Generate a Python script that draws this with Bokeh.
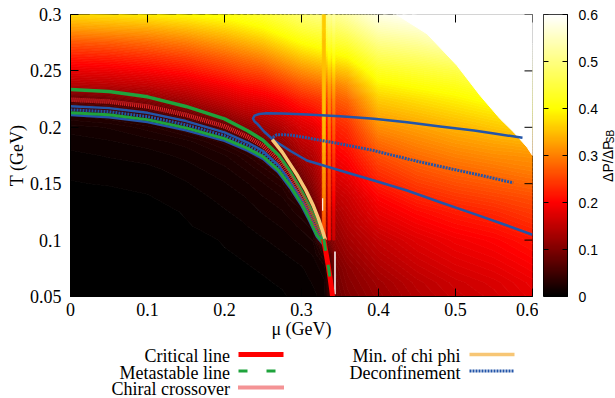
import numpy as np
from bokeh.plotting import figure
from bokeh.plotting.contour import contour_data
from bokeh.models import Range1d, FixedTicker, ColumnDataSource, LinearColorMapper
from bokeh.layouts import row, column
from bokeh.core.properties import value
from bokeh.embed import file_html
from bokeh.resources import INLINE

# ---------------- data ----------------
X_TICKS = [0, 0.1, 0.2, 0.3, 0.4, 0.5, 0.6]
X_LABELS = ["0", "0.1", "0.2", "0.3", "0.4", "0.5", "0.6"]
Y_TICKS = [0.05, 0.1, 0.15, 0.2, 0.25, 0.3]
Y_LABELS = ["0.05", "0.1", "0.15", "0.2", "0.25", "0.3"]
CB_TICKS = [0, 0.1, 0.2, 0.3, 0.4, 0.5, 0.6]
CB_LABELS = ["0", "0.1", "0.2", "0.3", "0.4", "0.5", "0.6"]

# heat-map grid (mu columns, T rows)
MU_GRID = [0, 0.05, 0.1, 0.15, 0.2, 0.225, 0.25, 0.275, 0.3, 0.315, 0.33, 0.345, 0.36, 0.4, 0.45, 0.5, 0.55, 0.6]
T_GRID = [0.05, 0.0625, 0.075, 0.0875, 0.1, 0.1125, 0.125, 0.1375, 0.15, 0.1625, 0.175,
          0.1875, 0.2, 0.2125, 0.225, 0.2375, 0.25, 0.2625, 0.275, 0.2875, 0.3]
Z_BY_MU = [
    [0, 0, 0, 0, 0, 0, 0, 0, 0.002, 0.004, 0.006, 0.01, 0.015, 0.03, 0.075, 0.14, 0.18, 0.22, 0.265, 0.32, 0.37],
    [0, 0, 0, 0, 0, 0, 0, 0, 0.003, 0.005, 0.008, 0.012, 0.018, 0.035, 0.085, 0.145, 0.185, 0.225, 0.27, 0.325, 0.375],
    [0, 0, 0, 0, 0, 0, 0, 0.002, 0.004, 0.006, 0.01, 0.015, 0.025, 0.05, 0.105, 0.155, 0.195, 0.235, 0.28, 0.33, 0.385],
    [0, 0, 0, 0, 0, 0.002, 0.003, 0.005, 0.007, 0.01, 0.014, 0.02, 0.04, 0.08, 0.13, 0.17, 0.21, 0.25, 0.295, 0.345, 0.395],
    [0, 0, 0.001, 0.002, 0.003, 0.005, 0.007, 0.009, 0.012, 0.016, 0.022, 0.035, 0.065, 0.12, 0.16, 0.195, 0.235, 0.275, 0.32, 0.365, 0.41],
    [0, 0.001, 0.002, 0.003, 0.005, 0.007, 0.009, 0.012, 0.016, 0.022, 0.03, 0.05, 0.1, 0.14, 0.175, 0.21, 0.25, 0.29, 0.335, 0.38, 0.425],
    [0.001, 0.002, 0.003, 0.005, 0.007, 0.01, 0.013, 0.017, 0.022, 0.03, 0.045, 0.08, 0.12, 0.15, 0.185, 0.22, 0.26, 0.305, 0.35, 0.395, 0.44],
    [0.002, 0.003, 0.005, 0.007, 0.01, 0.013, 0.017, 0.022, 0.03, 0.045, 0.075, 0.11, 0.14, 0.17, 0.2, 0.24, 0.285, 0.33, 0.375, 0.42, 0.46],
    [0.004, 0.005, 0.007, 0.01, 0.014, 0.019, 0.026, 0.04, 0.075, 0.1, 0.125, 0.15, 0.17, 0.195, 0.225, 0.265, 0.31, 0.355, 0.4, 0.445, 0.485],
    [0.006, 0.008, 0.01, 0.013, 0.018, 0.025, 0.05, 0.09, 0.11, 0.125, 0.14, 0.16, 0.18, 0.205, 0.235, 0.275, 0.32, 0.365, 0.41, 0.455, 0.495],
    [0.01, 0.012, 0.015, 0.03, 0.08, 0.11, 0.125, 0.14, 0.15, 0.16, 0.17, 0.185, 0.2, 0.22, 0.245, 0.285, 0.33, 0.375, 0.42, 0.46, 0.505],
    [0.085, 0.09, 0.095, 0.105, 0.115, 0.125, 0.135, 0.15, 0.165, 0.18, 0.195, 0.21, 0.225, 0.245, 0.27, 0.3, 0.345, 0.39, 0.435, 0.475, 0.515],
    [0.1, 0.105, 0.11, 0.12, 0.13, 0.14, 0.15, 0.16, 0.175, 0.19, 0.205, 0.22, 0.235, 0.255, 0.28, 0.315, 0.355, 0.4, 0.445, 0.49, 0.53],
    [0.12, 0.125, 0.135, 0.145, 0.155, 0.17, 0.185, 0.2, 0.22, 0.24, 0.26, 0.285, 0.31, 0.335, 0.36, 0.39, 0.425, 0.465, 0.505, 0.545, 0.58],
    [0.14, 0.145, 0.155, 0.165, 0.175, 0.19, 0.205, 0.225, 0.245, 0.265, 0.285, 0.305, 0.325, 0.35, 0.375, 0.405, 0.44, 0.48, 0.52, 0.56, 0.6],
    [0.155, 0.16, 0.17, 0.18, 0.19, 0.205, 0.22, 0.24, 0.26, 0.28, 0.3, 0.32, 0.34, 0.365, 0.39, 0.42, 0.455, 0.5, 0.55, 0.6, 0.6],
    [0.165, 0.17, 0.18, 0.19, 0.2, 0.215, 0.23, 0.25, 0.27, 0.29, 0.31, 0.33, 0.355, 0.38, 0.41, 0.45, 0.5, 0.55, 0.6, 0.6, 0.6],
    [0.18, 0.185, 0.195, 0.205, 0.215, 0.23, 0.245, 0.26, 0.28, 0.3, 0.315, 0.34, 0.37, 0.4, 0.44, 0.48, 0.52, 0.56, 0.6, 0.6, 0.6],
]

# narrow vertical streaks in the map (numerical artefacts near mu ~ 0.33)
STREAK_T = [0.1, 0.1125, 0.125, 0.1375, 0.15, 0.1625, 0.175, 0.1875, 0.2, 0.2125, 0.225,
            0.2375, 0.25, 0.2625, 0.275, 0.2875, 0.3]
STREAK_MU = [(0.327, 0.331), (0.3345, 0.3375), (0.3405, 0.3435)]
STREAK_VALS = [
    [0.24, 0.26, 0.28, 0.3, 0.31, 0.32, 0.33, 0.34, 0.345, 0.35, 0.35, 0.35, 0.35, 0.35, 0.35, 0.36, 0.36],
    [0.2, 0.21, 0.22, 0.24, 0.25, 0.26, 0.27, 0.28, 0.29, 0.3, 0.31, 0.33, 0.36, 0.4, 0.44, 0.48, 0.52],
    [0.16, 0.17, 0.18, 0.2, 0.215, 0.23, 0.245, 0.26, 0.275, 0.29, 0.31, 0.335, 0.37, 0.41, 0.45, 0.49, 0.53],
]
# thin gaps without data inside the map
GAP_MU_LEFT = [0.3425, 0.3268]
GAP_MU_RIGHT = [0.3445, 0.3282]
GAP_T_BOTTOM = [0.052, 0.126]
GAP_T_TOP = [0.09, 0.137]

# edge of the computed region (no data beyond it)
EDGE_MU = [0.4234, 0.463, 0.502, 0.532, 0.558, 0.5757, 0.593, 0.6]
EDGE_T = [0.3, 0.2829, 0.2548, 0.2282, 0.2075, 0.1957, 0.1823, 0.175]

# transition lines
MU_BUNDLE = [0, 0.05, 0.1, 0.15, 0.2, 0.23, 0.25, 0.27, 0.285, 0.3, 0.31, 0.32, 0.329]
T_META_UP = [0.2335, 0.2318, 0.227, 0.2185, 0.2075, 0.197, 0.1885, 0.1755, 0.161, 0.1435, 0.13, 0.115, 0.101]
T_BLUE_1 = [0.2187, 0.217, 0.2128, 0.2055, 0.1955, 0.1865, 0.179, 0.1665, 0.1525, 0.1365, 0.1235, 0.108, 0.0985]
T_DECONF = [0.2155, 0.2138, 0.2095, 0.2022, 0.1925, 0.1838, 0.1763, 0.1642, 0.1505, 0.1345, 0.1215, 0.1065, 0.0975]
T_META_LO = [0.2129, 0.2112, 0.2068, 0.1995, 0.19, 0.1813, 0.174, 0.162, 0.1485, 0.1325, 0.1195, 0.1045, 0.0965]
T_BLUE_2 = [0.2108, 0.209, 0.2046, 0.1973, 0.188, 0.1793, 0.172, 0.16, 0.1465, 0.1305, 0.1175, 0.103, 0.0955]

MU_CHIRAL = [0, 0.05, 0.1, 0.15, 0.2, 0.23, 0.25, 0.27, 0.285, 0.3, 0.31, 0.32, 0.326]
T_CHIRAL = [0.2245, 0.2228, 0.2185, 0.211, 0.2008, 0.1915, 0.1835, 0.171, 0.157, 0.14, 0.127, 0.1115, 0.104]

MU_LOOP = [0.587, 0.55, 0.524, 0.48, 0.437, 0.394, 0.35, 0.307, 0.275, 0.255, 0.245, 0.239, 0.237,
           0.239, 0.243, 0.251, 0.264, 0.2857, 0.307, 0.35, 0.394, 0.437, 0.48, 0.524, 0.567, 0.6]
T_LOOP = [0.1907, 0.1945, 0.1972, 0.2007, 0.2045, 0.2075, 0.2098, 0.2113, 0.2122, 0.2124, 0.2118, 0.2103, 0.2078,
          0.2052, 0.2028, 0.1965, 0.1885, 0.179, 0.1706, 0.1617, 0.1528, 0.144, 0.1336, 0.1233, 0.1129, 0.1047]

MU_DECONF_R = [0.263, 0.268, 0.285, 0.3074, 0.3506, 0.3939, 0.4372, 0.4805, 0.5238, 0.575]
T_DECONF_R = [0.191, 0.1935, 0.1932, 0.1906, 0.1853, 0.1794, 0.172, 0.1652, 0.1588, 0.1508]

MU_CHI = [0.262, 0.275, 0.286, 0.295, 0.305, 0.315, 0.322, 0.327, 0.331]
T_CHI = [0.189, 0.178, 0.1665, 0.157, 0.145, 0.131, 0.119, 0.109, 0.1]

MU_CRIT = [0.3286, 0.3315, 0.3345, 0.3372, 0.3392, 0.3405]
T_CRIT = [0.101, 0.09, 0.078, 0.066, 0.056, 0.049]

MU_META_DASH = [0.329, 0.3315, 0.3345, 0.3372, 0.3385]
T_META_DASH = [0.101, 0.09, 0.078, 0.066, 0.06]

LEGEND_LABELS = ["Critical line", "Metastable line", "Chiral crossover", "Min. of chi phi", "Deconfinement"]

# ---------------- style ----------------
BLUE = "#2355a8"
GREEN = "#1fa33c"
RED = "#ff0000"
CHIRAL = "#e8262a"
TAN = "#f7c675"
SERIF = "Liberation Serif"
SANS = "Liberation Sans"
CB_LOW, CB_HIGH = 0.0, 0.6


def hot(v):
    x = min(max((v - CB_LOW) / (CB_HIGH - CB_LOW), 0.0), 1.0)
    r = min(1.0, 3 * x)
    g = min(1.0, max(0.0, 3 * x - 1))
    b = min(1.0, max(0.0, 3 * x - 2))
    return "#%02x%02x%02x" % (int(round(r * 255)), int(round(g * 255)), int(round(b * 255)))


LEVELS = np.linspace(-0.0025, 0.6025, 122)


def add_field(fig, x, y, z):
    cd = contour_data(x=np.asarray(x, float), y=np.asarray(y, float), z=np.asarray(z, float),
                      levels=LEVELS, want_fill=True, want_line=False)
    fd = cd.fill_data
    xs, ys, cols = [], [], []
    for bx, by, lo, hi in zip(fd.xs, fd.ys, fd.lower_levels, fd.upper_levels):
        if len(bx) == 0:
            continue
        xs.append([[list(map(float, ring)) for ring in poly] for poly in bx])
        ys.append([[list(map(float, ring)) for ring in poly] for poly in by])
        cols.append(hot(0.5 * (lo + hi)))
    src = ColumnDataSource(dict(xs=xs, ys=ys, color=cols))
    fig.multi_polygons(xs="xs", ys="ys", fill_color="color", line_color="color",
                       line_width=0.8, source=src)


# ---------------- main plot ----------------
X0, X1 = 0.0, 0.6
Y0, Y1 = 0.05, 0.3
p = figure(width=538, height=342, x_range=Range1d(X0, X1), y_range=Range1d(Y0, Y1),
           min_border_left=70, min_border_right=6, min_border_top=14, min_border_bottom=46,
           toolbar_location=None, output_backend="svg")
p.grid.visible = False
p.outline_line_color = "black"
p.outline_line_width = 1

add_field(p, MU_GRID, T_GRID, np.array(Z_BY_MU).T)
for (a, b), vals in zip(STREAK_MU, STREAK_VALS):
    add_field(p, [a, b], STREAK_T, np.column_stack([vals, vals]))
p.quad(left=GAP_MU_LEFT, right=GAP_MU_RIGHT, bottom=GAP_T_BOTTOM, top=GAP_T_TOP,
       fill_color="white", line_color=None)

# no-data region
p.patch(EDGE_MU + [X1], EDGE_T + [Y1], fill_color="white", line_color="white", line_width=1)

# lines
p.line(MU_LOOP, T_LOOP, line_color=BLUE, line_width=2.5, line_join="round")
p.line(MU_BUNDLE, T_BLUE_1, line_color=BLUE, line_width=2.5, line_join="round")
p.line(MU_BUNDLE, T_BLUE_2, line_color=BLUE, line_width=2.5, line_join="round")
p.line(MU_DECONF_R, T_DECONF_R, line_color=BLUE, line_width=3, line_dash="2 1")
p.line(MU_BUNDLE, T_DECONF, line_color=BLUE, line_width=3, line_dash="2 1")
p.line(MU_BUNDLE, T_META_UP, line_color=GREEN, line_width=3.5, line_join="round")
p.line(MU_BUNDLE, T_META_LO, line_color=GREEN, line_width=3, line_join="round")
p.line(MU_CHIRAL, T_CHIRAL, line_color=CHIRAL, line_width=4.5, line_dash="1 1")
p.line(MU_CHI, T_CHI, line_color=TAN, line_width=3.5, line_join="round")
p.line(MU_CRIT, T_CRIT, line_color=RED, line_width=5, line_join="round")
p.line(MU_META_DASH, T_META_DASH, line_color=GREEN, line_width=3, line_dash="12 14")

# axes
p.xaxis.ticker = FixedTicker(ticks=X_TICKS)
p.xaxis.major_label_overrides = {t: l for t, l in zip(X_TICKS, X_LABELS)}
p.yaxis.ticker = FixedTicker(ticks=Y_TICKS)
p.yaxis.major_label_overrides = {t: l for t, l in zip(Y_TICKS, Y_LABELS)}
p.xaxis.axis_label = "μ (GeV)"
p.yaxis.axis_label = "T (GeV)"
for ax in (p.xaxis[0], p.yaxis[0]):
    ax.major_tick_in = 8
    ax.major_tick_out = 0
    ax.minor_tick_in = 0
    ax.minor_tick_out = 0
    ax.axis_line_color = "black"
    ax.major_tick_line_color = "black"
    ax.major_label_text_font = SERIF
    ax.major_label_text_font_size = "18px"
    ax.major_label_text_color = "black"
    ax.axis_label_text_font = SERIF
    ax.axis_label_text_font_size = "18px"
    ax.axis_label_text_font_style = "normal"
    ax.axis_label_text_color = "black"
p.xaxis.major_label_standoff = 6
p.xaxis.axis_label_standoff = 0
p.yaxis.major_label_standoff = 9
p.yaxis.axis_label_standoff = 0

# mirrored ticks on top and right edges
p.ray(x=X_TICKS, y=[Y1] * len(X_TICKS), length=8, length_units="screen",
      angle=-np.pi / 2, line_color="black", line_width=1)
p.ray(x=[X1] * len(Y_TICKS), y=Y_TICKS, length=8, length_units="screen",
      angle=np.pi, line_color="black", line_width=1)

# ---------------- colour bar ----------------
cb = figure(width=62, height=342, x_range=Range1d(0, 1), y_range=Range1d(CB_LOW, CB_HIGH),
            x_axis_type=None, y_axis_location="right",
            min_border_left=5, min_border_right=33, min_border_top=14, min_border_bottom=46,
            toolbar_location=None, output_backend="svg")
cb.grid.visible = False
cb.outline_line_color = "black"
grad_levels = np.linspace(CB_LOW, CB_HIGH, 256)
mapper = LinearColorMapper(palette=[hot(v) for v in grad_levels], low=CB_LOW, high=CB_HIGH)
cb.image(image=[grad_levels.reshape(-1, 1)], x=0, y=CB_LOW, dw=1, dh=CB_HIGH - CB_LOW,
         color_mapper=mapper)
cay = cb.yaxis[0]
cay.ticker = FixedTicker(ticks=CB_TICKS)
cay.major_label_overrides = {t: l for t, l in zip(CB_TICKS, CB_LABELS)}
cay.major_tick_in = 5
cay.major_tick_out = 0
cay.minor_tick_in = 0
cay.minor_tick_out = 0
cay.major_label_standoff = 11
cay.major_label_text_font = SANS
cay.major_label_text_font_size = "14px"
cay.major_label_text_color = "black"
cay.axis_line_color = "black"
cb.ray(x=[0] * len(CB_TICKS), y=CB_TICKS, length=5, length_units="screen",
       angle=0, line_color="black", line_width=1)

# colour-bar title column
tf = figure(width=15, height=342, x_range=Range1d(0, 15), y_range=Range1d(0, 342),
            x_axis_type=None, y_axis_type=None, min_border=0,
            toolbar_location=None, output_backend="svg")
tf.outline_line_color = None
tf.grid.visible = False
tf.text(x=[7], y=[139], text=["ΔP/ΔP"], angle=np.pi / 2, text_align="left",
        text_baseline="alphabetic", text_font=value(SANS), text_font_size="14px", text_color="black")
tf.text(x=[9.5], y=[186], text=["SB"], angle=np.pi / 2, text_align="left",
        text_baseline="alphabetic", text_font=value(SANS), text_font_size="10px", text_color="black")

# ---------------- legend (below) ----------------
lg = figure(width=615, height=56, x_range=Range1d(0, 615), y_range=Range1d(56, 0),
            x_axis_type=None, y_axis_type=None, min_border=0,
            toolbar_location=None, output_backend="svg")
lg.outline_line_color = None
lg.grid.visible = False
lg.text(x=[229.5, 229.5, 229.5], y=[13.5, 30, 46.5], text=LEGEND_LABELS[:3],
        text_align="right", text_baseline="alphabetic", text_font=value(SERIF),
        text_font_size="18px", text_color="black")
lg.text(x=[460, 460], y=[13.5, 30], text=LEGEND_LABELS[3:],
        text_align="right", text_baseline="alphabetic", text_font=value(SERIF),
        text_font_size="18px", text_color="black")
lg.segment(x0=[238], y0=[12], x1=[283], y1=[12], line_color=RED, line_width=5)
lg.segment(x0=[238], y0=[28.5], x1=[283], y1=[28.5], line_color=GREEN, line_width=3, line_dash="9 19")
lg.segment(x0=[238], y0=[45], x1=[283], y1=[45], line_color=CHIRAL, line_width=4, line_dash="1 1")
lg.segment(x0=[469], y0=[12], x1=[514], y1=[12], line_color=TAN, line_width=3.5)
lg.segment(x0=[469], y0=[28.5], x1=[514], y1=[28.5], line_color=BLUE, line_width=3, line_dash="2 1")

layout = column(row(p, cb, tf), lg)
open("out.html", "w").write(file_html(layout, INLINE))
